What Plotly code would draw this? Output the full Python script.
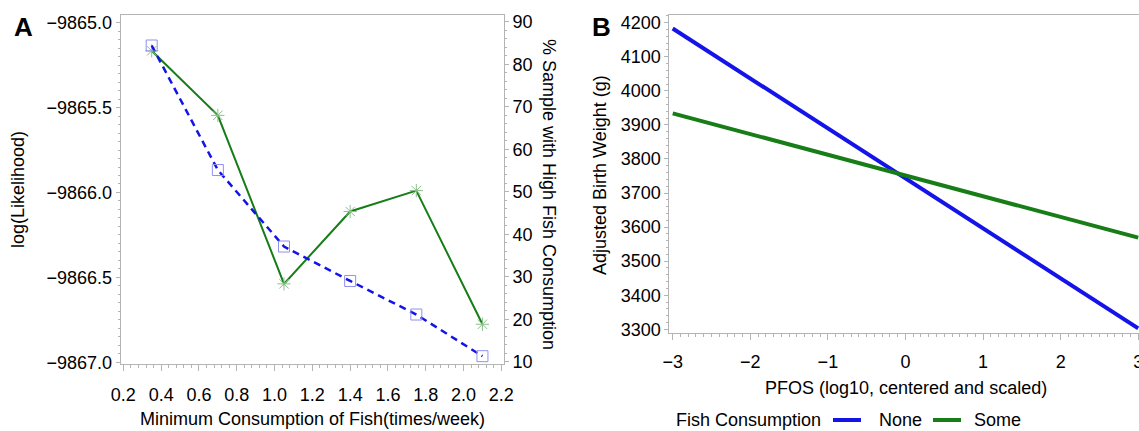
import plotly.graph_objects as go

# ---------------- data ----------------
# Panel A
min_consumption = [0.35, 0.70, 1.05, 1.40, 1.75, 2.10]
log_likelihood = [-9865.166, -9865.546, -9866.538, -9866.112, -9865.989, -9866.776]
pct_high_fish = [84.4, 55.1, 37.1, 29.0, 21.1, 11.3]

# Panel B
pfos = [-3, 3]
bw_none = [4183, 3303]
bw_some = [3934, 3569]
legend_title = "Fish Consumption"
legend_labels = ["None", "Some"]

W, H = 1139, 431
FONT = "Liberation Sans, Arial, sans-serif"
AXC = "#b4b4b4"
GREEN = "#177d17"
BLUE = "#1414e8"


def px(x):
    return x / W


def py(y):
    return (H - y) / H


fig = go.Figure()

# Panel A traces
fig.add_trace(go.Scatter(
    x=min_consumption, y=log_likelihood, xaxis="x", yaxis="y",
    mode="lines+markers", showlegend=False,
    line=dict(color=GREEN, width=2),
    marker=dict(symbol="asterisk-open", size=11, color="#8dbf8d", line=dict(width=1, color="#8dbf8d")),
))
fig.add_trace(go.Scatter(
    x=min_consumption, y=pct_high_fish, xaxis="x", yaxis="y2",
    mode="lines+markers", showlegend=False,
    line=dict(color=BLUE, width=2.5, dash="7px,5px"),
    marker=dict(symbol="square-open", size=11, color="#9090ee", line=dict(width=1, color="#9090ee")),
))

# Panel B traces
fig.add_trace(go.Scatter(
    x=pfos, y=bw_none, xaxis="x2", yaxis="y3", mode="lines", showlegend=False,
    name=legend_labels[0], line=dict(color=BLUE, width=4),
))
fig.add_trace(go.Scatter(
    x=pfos, y=bw_some, xaxis="x2", yaxis="y3", mode="lines", showlegend=False,
    name=legend_labels[1], line=dict(color=GREEN, width=4),
))

tickfont = dict(family=FONT, size=18, color="black")
common = dict(showgrid=False, zeroline=False, showline=True, linecolor=AXC, linewidth=1,
              ticks="outside", tickcolor=AXC, tickfont=tickfont, automargin=False,
              ticklabeloverflow="allow")

A_L, A_R, A_T, A_B = 120.7, 504.0, 15.0, 364.0
B_L, B_R, B_T, B_B = 669.3, 1139.0, 15.0, 333.3

fig.update_layout(
    template="none",
    width=W, height=H, autosize=False,
    margin=dict(l=0, r=0, t=0, b=0, pad=0),
    paper_bgcolor="white", plot_bgcolor="white",
    font=dict(family=FONT, size=18, color="black"),
    showlegend=False,
    xaxis=dict(domain=[px(A_L), px(A_R)], anchor="y", range=[0.186, 2.214],
               tick0=0.2, dtick=0.2, tickformat=".1f", ticklen=6, mirror=True,
               ticklabelstandoff=8,
               minor=dict(dtick=0.04, ticklen=3, tickcolor=AXC, ticks="outside"),
               **common),
    yaxis=dict(domain=[py(A_B), py(A_T)], anchor="x", range=[-9867.010, -9864.955],
               dtick=0.5, tickformat=".1f", ticklen=4,
               minor=dict(dtick=0.05, ticklen=2, tickcolor=AXC, ticks="outside"),
               **common),
    yaxis2=dict(overlaying="y", anchor="x", side="right", range=[9.46, 91.58],
                dtick=10, ticklen=4,
                minor=dict(dtick=2, ticklen=2, tickcolor=AXC, ticks="outside"),
                **common),
    xaxis2=dict(domain=[px(B_L), 1.0], anchor="y3", range=[-3.044, 3.01],
                dtick=1, ticklen=6, mirror=True, ticklabelstandoff=6,
                minor=dict(dtick=0.1, ticklen=3, tickcolor=AXC, ticks="outside"),
                **common),
    yaxis3=dict(domain=[py(B_B), py(B_T)], anchor="x2", range=[3288.3, 4222.6],
                dtick=100, ticklen=4,
                minor=dict(dtick=20, ticklen=2, tickcolor=AXC, ticks="outside"),
                **common),
)

LEG_Y = 420
annotations = [
    dict(text="<b>A</b>", x=px(23), y=py(27), font=dict(size=26, family=FONT)),
    dict(text="<b>B</b>", x=px(601), y=py(27), font=dict(size=26, family=FONT)),
    dict(text="Minimum Consumption of Fish(times/week)", x=px(312), y=py(419)),
    dict(text="log(Likelihood)", x=px(18), y=py(190), textangle=-90),
    dict(text="% Sample with High Fish Consumption", x=px(549), y=py(194), textangle=90),
    dict(text="PFOS (log10, centered and scaled)", x=px(906), y=py(388)),
    dict(text="Adjusted Birth Weight (g)", x=px(600), y=py(175), textangle=-90),
    dict(text=legend_title, x=px(674), y=py(LEG_Y), xanchor="left"),
    dict(text=legend_labels[0], x=px(877), y=py(LEG_Y), xanchor="left"),
    dict(text=legend_labels[1], x=px(972), y=py(LEG_Y), xanchor="left"),
]
for a in annotations:
    a.setdefault("xanchor", "center")
    a.update(xref="paper", yref="paper", showarrow=False, yanchor="middle")
    a.setdefault("font", dict(size=18, family=FONT))
fig.update_layout(annotations=annotations)

# legend line samples
fig.add_shape(type="line", xref="paper", yref="paper", x0=px(833), x1=px(861),
              y0=py(LEG_Y), y1=py(LEG_Y), line=dict(color=BLUE, width=4))
fig.add_shape(type="line", xref="paper", yref="paper", x0=px(933), x1=px(961),
              y0=py(LEG_Y), y1=py(LEG_Y), line=dict(color=GREEN, width=4))

fig.write_html(
    "out.html",
    config={"displayModeBar": False},
    post_script="document.body.style.margin='0';document.body.style.overflow='hidden';",
)
